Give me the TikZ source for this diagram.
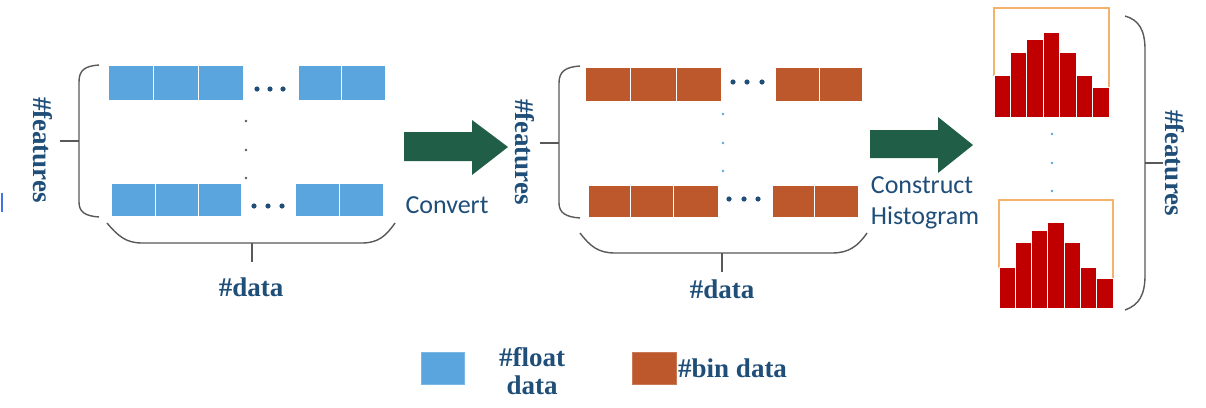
\documentclass[tikz,border=0pt]{standalone}
\usepackage{fontspec}
\setmainfont{Liberation Serif}
\newfontfamily\calib{Carlito}
\definecolor{cellblue}{HTML}{5AA5DE}
\definecolor{cellorange}{HTML}{BD582C}
\definecolor{barred}{HTML}{C00000}
\definecolor{histline}{HTML}{F4B36A}
\definecolor{arrowgreen}{HTML}{215E48}
\definecolor{txtblue}{HTML}{1F4E79}
\definecolor{bracegray}{HTML}{595959}
\definecolor{dotblue}{HTML}{5AA5DE}
\tikzset{
  bluecell/.style={fill=cellblue,draw=white,line width=1pt},
  orangecell/.style={fill=cellorange,draw=white,line width=1pt},
  bar/.style={fill=barred,draw=white,line width=1pt},
  brace/.style={draw=bracegray,line width=1.4pt},
  histbox/.style={draw=histline,line width=1.5pt},
  lbl/.style={text=txtblue,font=\fontsize{27}{28}\selectfont\bfseries,inner sep=0pt},
  sanslbl/.style={text=txtblue,font=\calib\fontsize{26}{31}\selectfont,inner sep=0pt},
  bigdot/.style={fill=txtblue},
  bigarrow/.style={fill=arrowgreen},
}
\begin{document}
\begin{tikzpicture}[x=1pt,y=-1pt]
\useasboundingbox (0,0) rectangle (1206,407);
\fill[white] (0,0) rectangle (1206,407);
% edge artifact
\fill[dotblue!70!blue] (0.5,193) rectangle (2.5,212);

% ---------- left block (float data)
\foreach \a/\b in {108/153,153/198,198/243,298/341,341/385}
  \draw[bluecell] (\a,65) rectangle (\b,100);
\foreach \a/\b in {111/155,155/198,198/241,295/339,339/383}
  \draw[bluecell] (\a,183) rectangle (\b,216);
\foreach \x in {257,270,283} \fill[bigdot] (\x,89) circle (2.6);
\foreach \x in {254,268,282} \fill[bigdot] (\x,206) circle (2.6);
\foreach \y in {121,150,178} \fill[bracegray] (246,\y) circle (1.4);
% braces
\draw[brace] (99,65) .. controls (85,66) and (79,70) .. (79,82) -- (79,202) .. controls (79,212) and (85,216) .. (99,217);
\coordinate (lbt) at (60,141);
\draw[brace] (79,141) -- (lbt);
\draw[brace] (107,223) .. controls (118,236) and (126,243) .. (142,243) -- (362,243) .. controls (378,243) and (386,236) .. (395,223);
\coordinate (lbb) at (252,262);
\draw[brace] (252,243) -- (lbb);
\node[lbl,rotate=-90] (featL) at (43,150) {\#features};
\node[lbl] (dataL) at (251,287) {\#data};

% ---------- arrow 1
\fill[bigarrow] (404,132) -- (472,132) -- (472,120) -- (508,147) -- (472,175) -- (472,161) -- (404,161) -- cycle;
\node[sanslbl] (convert) at (447,205) {Convert};

% ---------- middle block (bin data)
\foreach \a/\b in {585/630,630/676,676/721,775/819,819/862}
  \draw[orangecell] (\a,67) rectangle (\b,101);
\foreach \a/\b in {588/630,630/673,673/718,772/814,814/858}
  \draw[orangecell] (\a,185) rectangle (\b,217);
\foreach \x in {733,747,762} \fill[bigdot] (\x,82) circle (2.6);
\foreach \x in {729,744,758} \fill[bigdot] (\x,199) circle (2.6);
\foreach \y in {114,143,171} \fill[dotblue] (723,\y) circle (1.4);
\draw[brace] (580,66) .. controls (566,67) and (559,71) .. (559,83) -- (559,203) .. controls (559,213) and (566,217) .. (580,218);
\coordinate (mbt) at (540,143);
\draw[brace] (559,143) -- (mbt);
\draw[brace] (580,233) .. controls (590,246) and (598,253) .. (615,253) -- (832,253) .. controls (849,253) and (858,246) .. (867,233);
\coordinate (mbb) at (722,272);
\draw[brace] (722,253) -- (mbb);
\node[lbl,rotate=-90] (featM) at (525,152) {\#features};
\node[lbl] (dataM) at (722,289) {\#data};

% ---------- arrow 2
\fill[bigarrow] (870,130) -- (938,130) -- (938,117) -- (973,145) -- (938,173) -- (938,158) -- (870,158) -- cycle;
\node[sanslbl,align=left] (construct) at (925,203) {Construct\\Histogram};

% ---------- histograms
\draw[histbox] (994,76) -- (994,8) -- (1109,8) -- (1109,88);
\foreach \i/\t in {0/75,1/52,2/39,3/32,4/52,5/75,6/87}
  \draw[bar] ({994+\i*16.43},\t) rectangle ({994+(\i+1)*16.43},117);
\draw[histbox] (999,268) -- (999,200) -- (1113,200) -- (1113,279);
\foreach \i/\t in {0/267,1/242,2/230,3/222,4/242,5/267,6/278}
  \draw[bar] ({999+\i*16.29},\t) rectangle ({999+(\i+1)*16.29},308);
\foreach \y in {134,163,191} \fill[dotblue] (1052,\y) circle (1.4);
\draw[brace] (1125,16) .. controls (1139,20) and (1145,30) .. (1145,50) -- (1145,275) .. controls (1145,295) and (1139,305) .. (1125,310);
\coordinate (rbt) at (1163,163);
\draw[brace] (1145,163) -- (rbt);
\node[lbl,rotate=-90] (featR) at (1175,163) {\#features};

% ---------- legend
\node[fill=cellblue,draw=cellblue!80,minimum width=43pt,minimum height=32pt,inner sep=0pt] (legF) at (442.5,368) {};
\node[lbl,align=center] (legFt) at (532,371) {\#float\\data};
\node[fill=cellorange,draw=cellorange!80,minimum width=44pt,minimum height=32pt,inner sep=0pt] (legB) at (654,368) {};
\node[lbl,anchor=west] (legBt) at (678,368) {\#bin data};
\end{tikzpicture}
\end{document}
